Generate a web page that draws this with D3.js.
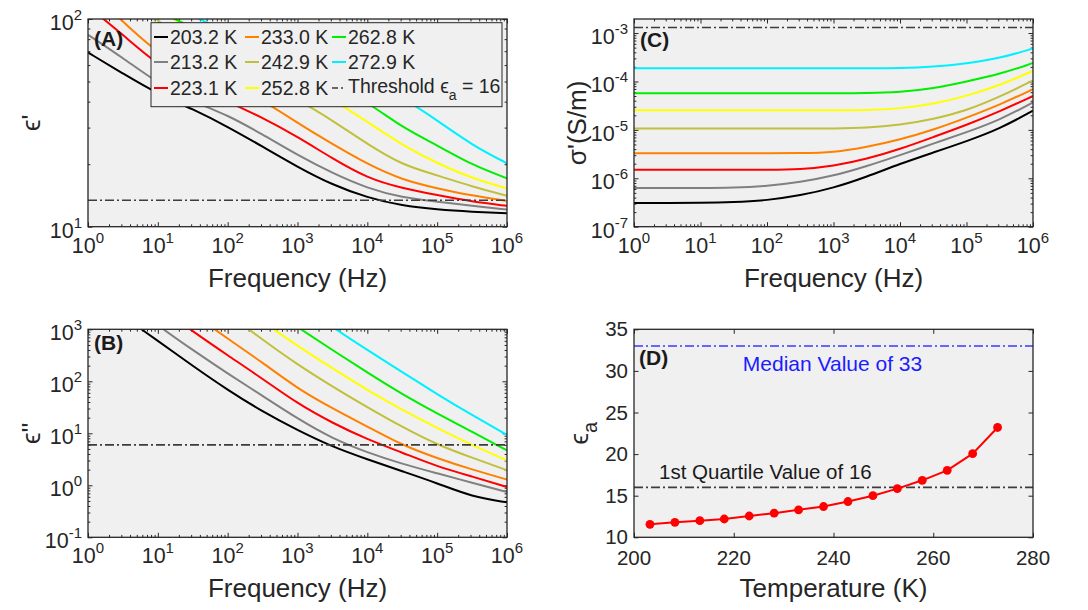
<!DOCTYPE html>
<html>
<head>
<meta charset="utf-8">
<script src="https://cdn.jsdelivr.net/npm/d3@7"></script>
<style>
  body { margin: 0; background: #fff; }
  svg { display: block; font-family: "Liberation Sans", Arial, Helvetica, sans-serif; }
</style>
</head>
<body>
<svg id="fig" width="1088" height="610"></svg>
<script>
// ---- measured data ----
// frequency grid (Hz), half-decade steps
const freqHz = [1, 3.162, 10, 31.62, 100, 316.2, 1000, 3162, 1e4, 3.162e4, 1e5, 3.162e5, 1e6];

const tempLabels = ["203.2 K", "213.2 K", "223.1 K", "233.0 K", "242.9 K", "252.8 K", "262.8 K", "272.9 K"];
const tempColors = ["#000000", "#808080", "#ff0000", "#ff8000", "#c0c03c", "#ffff00", "#00ee00", "#00f0ff"];

// real permittivity, one row per temperature
const epsReal = [
  [69, 54.6, 43.5, 36.9, 30.3, 24.3, 19.4, 15.9, 13.8, 12.6, 12.1, 11.8, 11.6],
  [84, 65, 49, 40, 34.5, 27.8, 22.1, 18.1, 15.3, 13.8, 13.2, 12.6, 12.1],
  [115, 84, 60, 48, 40, 33.5, 27.1, 21.3, 17.1, 15.3, 14.2, 13.2, 12.6],
  [140, 97, 68, 56, 47, 41, 31.5, 25, 20, 16.8, 15.3, 14.1, 13.3],
  [190, 150, 95, 75, 60, 49, 41, 32.5, 25, 19.8, 17.7, 15.6, 14.1],
  [200, 160, 110, 88, 72, 60, 50, 41, 32, 24.7, 20.2, 17.1, 15.3],
  [220, 170, 106, 92, 78, 66, 56, 48, 40, 30, 24.7, 19.8, 17.1],
  [260, 200, 150, 100, 88, 78, 68, 59, 51, 42, 32.5, 24.7, 20.2]
];

// imaginary permittivity, one row per temperature
const epsImag = [
  [5600, 1780, 603, 197, 68, 26.1, 11.5, 5.5, 3.16, 1.86, 1.10, 0.60, 0.47],
  [12600, 4000, 1175, 398, 141, 52.5, 19.1, 7.9, 4.27, 2.57, 1.70, 1.12, 0.74],
  [28000, 8900, 2800, 912, 316, 112, 37.2, 15.8, 7.6, 4.27, 2.29, 1.48, 0.93],
  [31600, 15800, 6300, 2000, 661, 229, 72.4, 30.2, 13.5, 5.9, 3.31, 2.0, 1.29],
  [200000, 63000, 20000, 6300, 2000, 631, 209, 79.4, 31.6, 13.2, 6.0, 3.39, 1.95],
  [251000, 89000, 31600, 11200, 3980, 1410, 479, 178, 67.6, 28.2, 12.6, 5.9, 3.02],
  [1e6, 316000, 100000, 31600, 9550, 3160, 1100, 398, 148, 56.2, 24, 10.7, 4.68],
  [3e6, 1e6, 316000, 100000, 25100, 8900, 3160, 1100, 398, 151, 56.2, 22.4, 9.3]
];

// real conductivity (S/m), one row per temperature
const sigmaReal = [
  [3.1e-7, 3.1e-7, 3.1e-7, 3.2e-7, 3.5e-7, 4.4e-7, 6.3e-7, 1.07e-6, 2.0e-6, 3.4e-6, 5.8e-6, 1.05e-5, 2.5e-5],
  [6.3e-7, 6.3e-7, 6.3e-7, 6.4e-7, 6.9e-7, 8.3e-7, 1.12e-6, 1.78e-6, 3.0e-6, 5.2e-6, 8.9e-6, 1.6e-5, 3.7e-5],
  [1.5e-6, 1.5e-6, 1.5e-6, 1.5e-6, 1.5e-6, 1.52e-6, 1.78e-6, 2.5e-6, 4.0e-6, 7.1e-6, 1.26e-5, 2.4e-5, 5.0e-5],
  [3.3e-6, 3.3e-6, 3.3e-6, 3.3e-6, 3.3e-6, 3.3e-6, 3.4e-6, 4.4e-6, 6.3e-6, 1.0e-5, 1.78e-5, 3.3e-5, 6.9e-5],
  [1.07e-5, 1.07e-5, 1.07e-5, 1.07e-5, 1.07e-5, 1.07e-5, 1.07e-5, 1.09e-5, 1.26e-5, 1.66e-5, 2.5e-5, 4.8e-5, 1.05e-4],
  [2.55e-5, 2.55e-5, 2.55e-5, 2.55e-5, 2.55e-5, 2.55e-5, 2.55e-5, 2.55e-5, 2.75e-5, 3.4e-5, 5.0e-5, 8.3e-5, 1.66e-4],
  [5.7e-5, 5.7e-5, 5.7e-5, 5.7e-5, 5.7e-5, 5.7e-5, 5.7e-5, 5.7e-5, 6.0e-5, 7.1e-5, 1.0e-4, 1.41e-4, 2.4e-4],
  [1.88e-4, 1.88e-4, 1.88e-4, 1.88e-4, 1.88e-4, 1.88e-4, 1.88e-4, 1.88e-4, 1.88e-4, 2.0e-4, 2.34e-4, 3.0e-4, 4.8e-4]
];

// high-frequency permittivity vs temperature
const tempK = [203.2, 208.2, 213.2, 218.1, 223.1, 228.1, 233.0, 238.0, 242.9, 247.9, 252.8, 257.8, 262.8, 267.9, 272.9];
const epsA  = [11.56, 11.8, 12.0, 12.2, 12.56, 12.9, 13.3, 13.7, 14.3, 15.0, 15.85, 16.85, 18.05, 20.05, 23.2];

// reference levels
const thresholdEpsReal = 13.4;
const thresholdEpsImag = 6.0;
const thresholdSigma = 1.3e-3;
const medianEpsA = 33;
const quartileEpsA = 16;

// tick definitions
const freqTickExps = [0, 1, 2, 3, 4, 5, 6];
const epsRealTickExps = [1, 2];
const epsImagTickExps = [-1, 0, 1, 2, 3];
const sigmaTickExps = [-7, -6, -5, -4, -3];
const tempTicks = [200, 220, 240, 260, 280];
const epsATicks = [10, 15, 20, 25, 30, 35];

// ---- drawing ----
const svg = d3.select("#fig");
const INK = "#262626";
const TICK_FONT = 21.5, SUP_FONT = 15, TITLE_FONT = 26, LIN_TICK_FONT = 20.5;
const DASHDOT = "9,3,2,3";

function minorLog(lo, hi) {
  const out = [];
  for (let e = Math.floor(Math.log10(lo)); e < Math.ceil(Math.log10(hi)); e++) {
    for (let m = 2; m <= 9; m++) {
      const v = m * Math.pow(10, e);
      if (v > lo && v < hi) out.push(v);
    }
  }
  return out;
}

function powLabel(text, exp) {
  text.append("tspan").text("10");
  text.append("tspan").attr("dy", -10).attr("font-size", SUP_FONT).text(String(exp));
}

function makePanel(box, x, y, xMajor, xMinor, yMajor, yMinor, id) {
  const g = svg.append("g");
  g.append("rect").attr("x", box.x0).attr("y", box.y0)
    .attr("width", box.x1 - box.x0).attr("height", box.y1 - box.y0)
    .attr("fill", "#f0f0f0");
  svg.append("clipPath").attr("id", id).append("rect")
    .attr("x", box.x0).attr("y", box.y0)
    .attr("width", box.x1 - box.x0).attr("height", box.y1 - box.y0);

  const tk = 4.5, tkm = 2.4;
  const axes = [
    [d3.axisBottom(x), `translate(0,${box.y1})`, xMajor, xMinor],
    [d3.axisTop(x), `translate(0,${box.y0})`, xMajor, xMinor],
    [d3.axisLeft(y), `translate(${box.x0},0)`, yMajor, yMinor],
    [d3.axisRight(y), `translate(${box.x1},0)`, yMajor, yMinor]
  ];
  axes.forEach(([ax, tr, maj, min]) => {
    [[maj, tk], [min, tkm]].forEach(([vals, size]) => {
      if (!vals.length) return;
      const a = g.append("g").attr("transform", tr)
        .call(ax.tickValues(vals).tickSize(-size).tickSizeOuter(0).tickFormat(""));
      a.select(".domain").remove();
      a.selectAll("line").attr("stroke", INK).attr("stroke-width", 1);
    });
  });
  const plot = svg.append("g").attr("clip-path", `url(#${id})`);
  return { g, plot };
}

function finishPanel(box) {
  svg.append("rect").attr("x", box.x0).attr("y", box.y0)
    .attr("width", box.x1 - box.x0).attr("height", box.y1 - box.y0)
    .attr("fill", "none").attr("stroke", INK).attr("stroke-width", 1.3);
}

function logXLabels(box, x) {
  freqTickExps.forEach(e => {
    const t = svg.append("text").attr("x", x(Math.pow(10, e))).attr("y", box.y1 + 26)
      .attr("text-anchor", "middle").attr("font-size", TICK_FONT).attr("fill", INK);
    powLabel(t, e);
  });
  svg.append("text").attr("x", (box.x0 + box.x1) / 2).attr("y", box.y1 + 60)
    .attr("text-anchor", "middle").attr("font-size", TITLE_FONT).attr("fill", INK)
    .text("Frequency (Hz)");
}

function logYLabels(box, y, exps) {
  exps.forEach(e => {
    const t = svg.append("text").attr("x", box.x0 - 6).attr("y", y(Math.pow(10, e)) + 11)
      .attr("text-anchor", "end").attr("font-size", TICK_FONT).attr("fill", INK);
    powLabel(t, e);
  });
}

function yTitle(xPos, box, build) {
  const t = svg.append("text")
    .attr("transform", `translate(${xPos},${(box.y0 + box.y1) / 2}) rotate(-90)`)
    .attr("text-anchor", "middle").attr("font-size", TITLE_FONT).attr("fill", INK);
  build(t);
}

function panelTag(x, y, s) {
  svg.append("text").attr("x", x).attr("y", y).attr("font-size", 21)
    .attr("font-weight", "bold").attr("fill", "#1a1a1a").text(s);
}

function drawCurves(plot, x, y, rows) {
  const line = d3.line()
    .x((d, i) => x(freqHz[i]))
    .y(d => y(d))
    .curve(d3.curveBasis);
  rows.forEach((row, k) => {
    plot.append("path").attr("d", line(row)).attr("fill", "none")
      .attr("stroke", tempColors[k]).attr("stroke-width", 2);
  });
}

function hLine(plot, box, yPos, color, width) {
  plot.append("line").attr("x1", box.x0).attr("x2", box.x1)
    .attr("y1", yPos).attr("y2", yPos)
    .attr("stroke", color).attr("stroke-width", width)
    .attr("stroke-dasharray", DASHDOT);
}

const freqMajor = freqTickExps.map(e => Math.pow(10, e));
const freqMinor = minorLog(1, 1e6);

// ---- (A) real permittivity ----
const boxA = { x0: 88, x1: 507, y0: 19, y1: 226.7 };
const xA = d3.scaleLog().domain([1, 1e6]).range([boxA.x0, boxA.x1]);
const yA = d3.scaleLog().domain([10, 100]).range([boxA.y1, boxA.y0]);
const pA = makePanel(boxA, xA, yA, freqMajor, freqMinor,
  epsRealTickExps.map(e => Math.pow(10, e)), minorLog(10, 100), "clipA");
drawCurves(pA.plot, xA, yA, epsReal);
hLine(pA.plot, boxA, yA(thresholdEpsReal), "#3c3c3c", 1.6);
finishPanel(boxA);
logXLabels(boxA, xA);
logYLabels(boxA, yA, epsRealTickExps);
yTitle(40, boxA, t => t.text("ϵ'"));
panelTag(94, 46, "(A)");

// legend
const legend = svg.append("g");
legend.append("rect").attr("x", 151).attr("y", 22.7).attr("width", 351).attr("height", 84)
  .attr("fill", "#f0f0f0").attr("stroke", INK).attr("stroke-width", 1);
const colX = [154, 245, 332];
const rowY = [37, 62, 88];
const LEG_FONT = 19.5;
tempLabels.forEach((lab, k) => {
  const c = Math.floor(k / 3), r = k % 3;
  legend.append("line").attr("x1", colX[c]).attr("x2", colX[c] + 14)
    .attr("y1", rowY[r]).attr("y2", rowY[r])
    .attr("stroke", tempColors[k]).attr("stroke-width", 2);
  legend.append("text").attr("x", colX[c] + 16).attr("y", rowY[r] + 7)
    .attr("font-size", LEG_FONT).attr("fill", INK).text(lab);
});
legend.append("line").attr("x1", colX[2]).attr("x2", colX[2] + 14)
  .attr("y1", rowY[2]).attr("y2", rowY[2])
  .attr("stroke", "#3c3c3c").attr("stroke-width", 1.6).attr("stroke-dasharray", "6,3,2,3");
const thrText = legend.append("text").attr("x", colX[2] + 16).attr("y", rowY[2] + 5)
  .attr("font-size", LEG_FONT).attr("fill", INK);
thrText.append("tspan").text("Threshold ϵ");
thrText.append("tspan").attr("dy", 7).attr("font-size", 14).text("a");
thrText.append("tspan").attr("dy", -7).text(` = ${quartileEpsA}`);

// ---- (B) imaginary permittivity ----
const boxB = { x0: 88, x1: 507, y0: 329.3, y1: 537.3 };
const xB = d3.scaleLog().domain([1, 1e6]).range([boxB.x0, boxB.x1]);
const yB = d3.scaleLog().domain([0.1, 1000]).range([boxB.y1, boxB.y0]);
const pB = makePanel(boxB, xB, yB, freqMajor, freqMinor,
  epsImagTickExps.map(e => Math.pow(10, e)), minorLog(0.1, 1000), "clipB");
drawCurves(pB.plot, xB, yB, epsImag);
hLine(pB.plot, boxB, yB(thresholdEpsImag), "#3c3c3c", 1.6);
finishPanel(boxB);
logXLabels(boxB, xB);
logYLabels(boxB, yB, epsImagTickExps);
yTitle(40, boxB, t => t.text("ϵ''"));
panelTag(94, 350, "(B)");

// ---- (C) real conductivity ----
const boxC = { x0: 634, x1: 1033, y0: 19, y1: 226.7 };
const xC = d3.scaleLog().domain([1, 1e6]).range([boxC.x0, boxC.x1]);
const yC = d3.scaleLog().domain([1e-7, 1.95e-3]).range([boxC.y1, boxC.y0]);
const pC = makePanel(boxC, xC, yC, freqMajor, freqMinor,
  sigmaTickExps.map(e => Math.pow(10, e)), minorLog(1e-7, 1.95e-3), "clipC");
drawCurves(pC.plot, xC, yC, sigmaReal);
hLine(pC.plot, boxC, yC(thresholdSigma), "#3c3c3c", 1.6);
finishPanel(boxC);
logXLabels(boxC, xC);
logYLabels(boxC, yC, sigmaTickExps);
yTitle(586, boxC, t => t.text("σ'(S/m)"));
panelTag(640, 47, "(C)");

// ---- (D) epsilon_a vs temperature ----
const boxD = { x0: 634, x1: 1033, y0: 329.3, y1: 537.3 };
const xD = d3.scaleLinear().domain([200, 280]).range([boxD.x0, boxD.x1]);
const yD = d3.scaleLinear().domain([10, 35]).range([boxD.y1, boxD.y0]);
const pD = makePanel(boxD, xD, yD, tempTicks, [], epsATicks, [], "clipD");
hLine(pD.plot, boxD, yD(medianEpsA), "#3a3aff", 1.5);
hLine(pD.plot, boxD, yD(quartileEpsA), "#3c3c3c", 1.6);
const lineD = d3.line().x((d, i) => xD(tempK[i])).y(d => yD(d));
pD.plot.append("path").attr("d", lineD(epsA)).attr("fill", "none")
  .attr("stroke", "#ff0000").attr("stroke-width", 2);
pD.plot.selectAll("circle.pt").data(epsA).enter().append("circle")
  .attr("cx", (d, i) => xD(tempK[i])).attr("cy", d => yD(d)).attr("r", 4.4)
  .attr("fill", "#ff0000");
finishPanel(boxD);
tempTicks.forEach(v => {
  svg.append("text").attr("x", xD(v)).attr("y", boxD.y1 + 28)
    .attr("text-anchor", "middle").attr("font-size", LIN_TICK_FONT).attr("fill", INK).text(v);
});
epsATicks.forEach(v => {
  svg.append("text").attr("x", boxD.x0 - 6).attr("y", yD(v) + 7)
    .attr("text-anchor", "end").attr("font-size", LIN_TICK_FONT).attr("fill", INK).text(v);
});
svg.append("text").attr("x", (boxD.x0 + boxD.x1) / 2).attr("y", boxD.y1 + 60)
  .attr("text-anchor", "middle").attr("font-size", TITLE_FONT).attr("fill", INK)
  .text("Temperature (K)");
yTitle(588, boxD, t => {
  t.append("tspan").text("ϵ");
  t.append("tspan").attr("dy", 9).attr("font-size", 20).text("a");
});
panelTag(639, 365, "(D)");
svg.append("text").attr("x", 832.5).attr("y", 370.5).attr("text-anchor", "middle")
  .attr("font-size", 21).attr("fill", "#1c1cff").text(`Median Value of ${medianEpsA}`);
svg.append("text").attr("x", 659).attr("y", 478.5)
  .attr("font-size", 20.5).attr("fill", "#1a1a1a").text(`1st Quartile Value of ${quartileEpsA}`);
</script>
</body>
</html>
